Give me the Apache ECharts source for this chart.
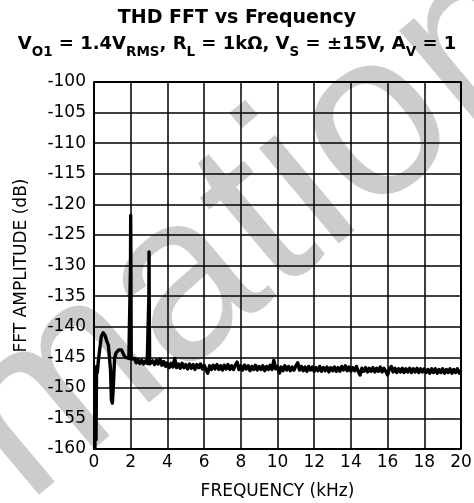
<!DOCTYPE html>
<html>
<head>
<meta charset="utf-8">
<script src="https://cdn.jsdelivr.net/npm/echarts@6/dist/echarts.min.js"></script>
<style>
html,body{margin:0;padding:0;background:#fff;}
#chart{width:474px;height:503px;}
</style>
</head>
<body>
<div id="chart"></div>
<script>
// ---- data ----
const titleLine1 = 'THD FFT vs Frequency';
const xAxisName = 'FREQUENCY (kHz)';
const yAxisName = 'FFT AMPLITUDE (dB)';
const xTicks = [0, 2, 4, 6, 8, 10, 12, 14, 16, 18, 20];
const yTicks = [-160, -155, -150, -145, -140, -135, -130, -125, -120, -115, -110, -105, -100];

// low-frequency part (kHz) and harmonics
const freqLow = [0.05, 0.08, 0.11, 0.14, 0.18, 0.24, 0.3, 0.4, 0.5, 0.6, 0.7, 0.78, 0.84, 0.9, 0.95, 1.0, 1.05, 1.12, 1.2, 1.35, 1.5, 1.6, 1.7, 1.8, 1.9, 1.97, 1.99, 2.0, 2.01, 2.03, 2.1, 2.2, 2.3, 2.4, 2.5, 2.6, 2.7, 2.8, 2.9, 2.97, 2.99, 3.0, 3.01, 3.03];
const ampLow  = [-160, -147.5, -158.5, -146.5, -147.5, -145.5, -144, -141.6, -141, -141.4, -142.4, -143, -143.2, -147, -152, -152.5, -150, -145.2, -144.3, -143.8, -143.8, -144.5, -145, -145.1, -145.2, -145.2, -130, -121.8, -130, -145.3, -145.6, -145.2, -145.9, -145.4, -146.0, -145.5, -146.1, -145.6, -146.0, -145.8, -135, -127.8, -135, -146.1];

// noise floor, 3.1 .. 20.0 kHz
const freqFloor = [3.1,3.2,3.3,3.4,3.5,3.6,3.7,3.8,3.9,4.0,4.1,4.2,4.3,4.4,4.5,4.6,4.7,4.8,4.9,5.0,5.1,5.2,5.3,5.4,5.5,5.6,5.7,5.8,5.9,6.0,6.1,6.2,6.3,6.4,6.5,6.6,6.7,6.8,6.9,7.0,7.1,7.2,7.3,7.4,7.5,7.6,7.7,7.8,7.9,8.0,8.1,8.2,8.3,8.4,8.5,8.6,8.7,8.8,8.9,9.0,9.1,9.2,9.3,9.4,9.5,9.6,9.7,9.8,9.9,10.0,10.1,10.2,10.3,10.4,10.5,10.6,10.7,10.8,10.9,11.0,11.1,11.2,11.3,11.4,11.5,11.6,11.7,11.8,11.9,12.0,12.1,12.2,12.3,12.4,12.5,12.6,12.7,12.8,12.9,13.0,13.1,13.2,13.3,13.4,13.5,13.6,13.7,13.8,13.9,14.0,14.1,14.2,14.3,14.4,14.5,14.6,14.7,14.8,14.9,15.0,15.1,15.2,15.3,15.4,15.5,15.6,15.7,15.8,15.9,16.0,16.1,16.2,16.3,16.4,16.5,16.6,16.7,16.8,16.9,17.0,17.1,17.2,17.3,17.4,17.5,17.6,17.7,17.8,17.9,18.0,18.1,18.2,18.3,18.4,18.5,18.6,18.7,18.8,18.9,19.0,19.1,19.2,19.3,19.4,19.5,19.6,19.7,19.8,19.9,20.0];
const ampFloor = [-146.3,-145.6,-146.2,-145.5,-146.1,-145.3,-146.3,-145.7,-146.5,-145.9,-146.7,-146.0,-146.6,-145.2,-146.7,-146.1,-146.8,-146.0,-146.7,-146.2,-146.9,-146.1,-146.8,-146.2,-147.0,-146.2,-146.7,-146.1,-146.9,-146.3,-147.0,-147.6,-146.4,-147.0,-146.3,-146.9,-146.2,-147.0,-146.4,-147.1,-146.3,-146.9,-146.2,-147.0,-146.4,-147.0,-146.3,-145.8,-147.0,-146.4,-147.1,-146.3,-146.9,-146.4,-147.2,-146.5,-147.0,-146.3,-147.1,-146.5,-147.0,-146.4,-147.2,-146.5,-147.0,-146.3,-147.0,-145.5,-146.9,-146.5,-147.6,-146.6,-147.2,-146.4,-147.1,-146.5,-147.2,-146.6,-147.1,-146.4,-145.9,-147.1,-146.5,-147.2,-146.6,-147.3,-146.5,-147.1,-146.6,-147.3,-146.7,-147.2,-146.5,-147.3,-146.7,-147.2,-146.6,-147.4,-146.7,-147.2,-146.6,-147.3,-146.7,-147.3,-146.5,-147.1,-146.4,-147.2,-146.6,-147.3,-146.7,-147.2,-146.5,-147.3,-147.9,-146.8,-147.3,-146.7,-147.4,-146.8,-147.3,-146.7,-147.4,-146.8,-147.3,-146.6,-147.4,-146.8,-147.3,-147.9,-146.9,-146.5,-147.4,-146.8,-147.5,-146.9,-147.4,-146.8,-147.5,-146.9,-147.4,-146.8,-147.5,-146.9,-147.4,-146.8,-147.5,-146.9,-147.4,-146.9,-147.5,-147.0,-147.6,-146.9,-147.5,-146.9,-147.6,-147.0,-147.5,-146.9,-147.6,-147.0,-147.5,-146.9,-147.6,-147.0,-147.5,-146.9,-147.6,-147.1];

const watermarkText = 'Information';

// ---- build ----
const trace = [];
freqLow.forEach((f, i) => trace.push([f, ampLow[i]]));
freqFloor.forEach((f, i) => trace.push([f, ampFloor[i]]));

const FONT = 'DejaVu Sans';
const chart = echarts.init(document.getElementById('chart'), null, {renderer: 'canvas'});

const main = {fontFamily: FONT, fontWeight: 'bold', fontSize: 18, color: '#000', lineHeight: 24, verticalAlign: 'top'};
const sub = {fontFamily: FONT, fontWeight: 'bold', fontSize: 13.5, color: '#000', lineHeight: 16, verticalAlign: 'bottom'};

chart.setOption({
  backgroundColor: '#fff',
  animation: false,
  graphic: [{
    type: 'text',
    silent: true,
    z: -10,
    x: 75, y: 380,
    rotation: 40 * Math.PI / 180,
    style: {
      text: watermarkText,
      fontFamily: 'Liberation Sans',
      fontWeight: 'normal',
      fontSize: 235,
      fill: '#cccccc',
      textAlign: 'center',
      textVerticalAlign: 'middle'
    }
  }],
  title: [{
    text: titleLine1,
    left: 'center',
    top: 7,
    padding: 0,
    textStyle: {fontFamily: FONT, fontWeight: 'bold', fontSize: 19, color: '#000', lineHeight: 22}
  }, {
    text: '{m|V}{s|O1}{m| = 1.4V}{s|RMS}{m|, R}{s|L}{m| = 1kΩ, V}{s|S}{m| = ±15V, A}{s|V}{m| = 1}',
    left: 'center',
    top: 35,
    padding: 0,
    textStyle: {rich: {m: main, s: sub}}
  }],
  grid: {left: 94, right: 13, top: 82, bottom: 54, containLabel: false, outerBoundsMode: 'none'},
  xAxis: {
    type: 'value',
    min: xTicks[0], max: xTicks[xTicks.length - 1], interval: 2,
    name: xAxisName, nameLocation: 'middle', nameGap: 34,
    nameTextStyle: {fontFamily: FONT, fontSize: 17, color: '#000'},
    axisLine: {show: true, onZero: false, lineStyle: {color: '#000', width: 2}},
    axisTick: {show: false},
    axisLabel: {fontFamily: FONT, fontSize: 17, color: '#000', margin: 5},
    splitLine: {show: true, lineStyle: {color: '#000', width: 1.5}}
  },
  yAxis: {
    type: 'value',
    min: yTicks[0], max: yTicks[yTicks.length - 1], interval: 5,
    name: yAxisName, nameLocation: 'middle', nameGap: 64, nameRotate: 90,
    nameTextStyle: {fontFamily: FONT, fontSize: 17, color: '#000'},
    axisLine: {show: true, lineStyle: {color: '#000', width: 2}},
    axisTick: {show: false},
    axisLabel: {fontFamily: FONT, fontSize: 17, color: '#000', margin: 8},
    splitLine: {show: true, lineStyle: {color: '#000', width: 1.5}}
  },
  series: [{
    type: 'line',
    data: trace,
    showSymbol: false,
    symbol: 'none',
    sampling: null,
    lineStyle: {color: '#000', width: 3.4, join: 'round'},
    z: 5
  }, {
    // plot frame (top/right edges)
    type: 'line',
    data: [[xTicks[0], yTicks[yTicks.length - 1]], [xTicks[xTicks.length - 1], yTicks[yTicks.length - 1]], [xTicks[xTicks.length - 1], yTicks[0]]],
    showSymbol: false, symbol: 'none', silent: true,
    lineStyle: {color: '#000', width: 2},
    z: 4
  }]
});
</script>
</body>
</html>
